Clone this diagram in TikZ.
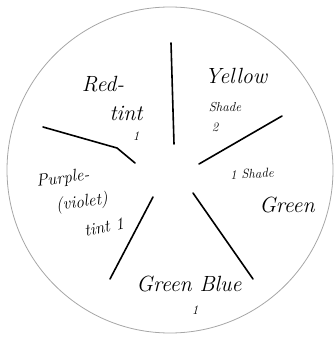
\documentclass[tikz,border=0pt]{standalone}
\begin{document}
\begin{tikzpicture}[x=1pt,y=-1pt,
  divider/.style={line width=1.6pt,line cap=round},
  big/.style={font=\itshape\fontsize{22}{23}\selectfont,inner sep=0pt},
  mid/.style={font=\itshape\fontsize{17}{18}\selectfont,inner sep=0pt},
  small/.style={font=\itshape\fontsize{13}{14}\selectfont,inner sep=0pt}]
\useasboundingbox (0,0) rectangle (336,339);
% outer disc
\draw[gray!70,line width=0.8pt] (170,170) circle (163);
% dividers
\draw[divider] (171,43) -- (174,144);
\draw[divider] (43,127) -- (117,148) -- (135,163);
\draw[divider] (282,116) -- (199,164);
\draw[divider] (193,193) -- (253,279);
\draw[divider] (153,197) -- (110,279);
% labels
\node[big] (red) at (103,84) {Red-};
\node[big] (tint) at (126,113) {tint};
\node[small] (one1) at (136,136) {1};
\node[big] (yellow) at (236,76) {Yellow};
\node[small] (shade) at (225,107) {Shade};
\node[small] (two) at (215,127) {2};
\node[small,rotate=3] (shade2) at (252,174) {1 Shade};
\node[big] (green) at (287,205) {Green};
\node[big] (greenblue) at (189,284) {Green Blue};
\node[small] (one2) at (195,310) {1};
\node[mid,rotate=8] (purple) at (63,179) {Purple-};
\node[mid,rotate=8] (violet) at (82,203) {(violet)};
\node[mid,rotate=12] (tint2) at (104,227) {tint 1};
\end{tikzpicture}
\end{document}
